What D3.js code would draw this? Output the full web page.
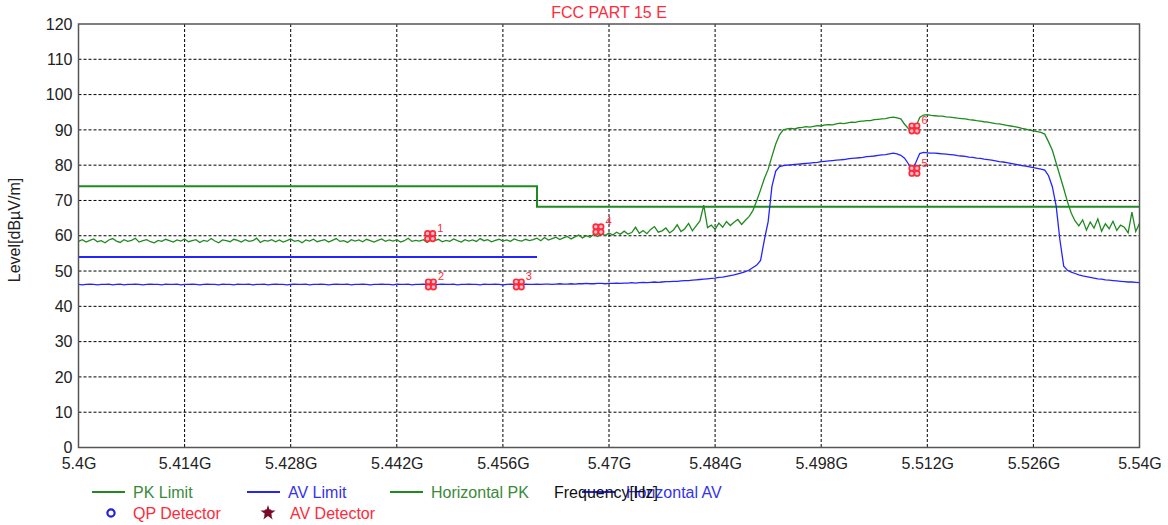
<!DOCTYPE html>
<html><head><meta charset="utf-8">
<script src="https://cdn.jsdelivr.net/npm/d3@7"></script>
<style>
html,body{margin:0;padding:0;background:#fff;}
svg{display:block;font-family:"Liberation Sans",Arial,sans-serif;}
</style></head>
<body><svg id="chart" width="1168" height="525"></svg>
<script>
// ---- data ----
const title = "FCC PART 15 E";
const yTicks = [0,10,20,30,40,50,60,70,80,90,100,110,120];
const xTicks = [5.4,5.414,5.428,5.442,5.456,5.47,5.484,5.498,5.512,5.526,5.54];
const xTickLabels = ["5.4G","5.414G","5.428G","5.442G","5.456G","5.47G","5.484G","5.498G","5.512G","5.526G","5.54G"];
// sweep: 5.400 GHz .. 5.540 GHz, 0.5 MHz per point
const sweepStart = 5.4, sweepStop = 5.54;
const horizontalPK = [
58.4,58.9,58.2,58.7,59.1,58.3,58.6,58.0,58.8,59.2,
58.5,58.1,58.9,58.4,58.7,59.3,58.2,58.6,58.9,58.3,
58.0,58.7,58.4,59.0,58.6,58.2,58.8,58.5,59.1,58.3,
58.6,58.9,58.1,58.7,58.4,59.2,58.5,58.0,58.8,58.6,
58.3,59.0,58.7,58.2,58.9,58.4,58.6,59.3,58.1,58.7,
58.5,58.9,58.3,58.8,58.2,58.6,59.1,58.4,58.7,58.0,
58.8,58.5,59.0,58.3,58.6,58.9,58.2,58.7,59.2,58.4,
58.6,58.1,58.9,58.5,58.8,58.3,59.0,58.6,58.2,58.7,
59.1,58.4,58.8,58.5,58.9,58.2,58.6,59.3,58.4,58.7,
58.5,58.9,58.1,58.8,58.6,59.0,58.3,58.7,58.4,59.1,
58.6,58.2,58.9,58.5,58.8,58.4,59.2,58.6,58.9,58.3,
58.7,59.0,58.5,58.8,58.4,59.1,58.7,58.5,59.0,58.6,
58.9,59.3,58.6,59.5,58.8,59.2,59.6,58.9,59.4,59.8,
59.1,59.7,60.2,59.4,60.0,59.6,60.4,59.8,60.6,60.1,
60.8,60.2,61.0,60.4,61.3,60.5,60.9,62.4,60.7,61.5,
60.6,61.8,62.6,61.0,61.4,62.2,60.8,61.6,63.1,61.2,
62.0,63.5,61.4,62.8,64.2,68.7,62.3,63.0,61.8,63.6,
62.4,64.0,62.9,63.8,64.6,63.2,
64.4,65.5,67.2,70.0,73.0,76.2,78.8,82.5,86.0,88.6,90.0,
90.3,90.4,90.3,90.6,90.7,90.9,90.8,91.0,91.2,91.1,
91.4,91.5,91.4,91.7,91.9,91.8,92.0,92.2,92.1,92.4,
92.5,92.6,92.6,92.9,93.0,93.1,93.2,93.5,93.6,
93.4,93.1,91.6,90.4,89.6,90.9,93.5,94.2,94.3,94.1,
94.0,93.9,93.9,93.7,93.6,93.5,93.3,93.2,93.1,92.9,
92.8,92.6,92.5,92.3,92.2,92.0,91.8,91.7,91.5,91.3,
91.1,90.9,90.7,90.4,90.2,89.9,89.7,
89.5,89.3,88.8,86.6,84.2,80.6,77.0,73.4,69.6,66.4,64.2,
62.8,64.5,61.6,63.9,62.2,64.8,61.3,63.4,62.0,64.1,
61.5,63.0,62.4,60.8,66.7,61.2,63.5];
const horizontalAV = [
46.2,46.1,46.2,46.3,46.2,46.1,46.2,46.2,46.3,46.1,
46.2,46.3,46.1,46.2,46.2,46.3,46.2,46.1,46.2,46.3,
46.2,46.2,46.1,46.3,46.2,46.2,46.3,46.1,46.2,46.2,
46.3,46.2,46.1,46.2,46.3,46.2,46.2,46.1,46.3,46.2,
46.2,46.1,46.3,46.2,46.2,46.3,46.1,46.2,46.2,46.3,
46.1,46.2,46.3,46.2,46.2,46.1,46.2,46.3,46.2,46.2,
46.3,46.1,46.2,46.2,46.3,46.2,46.1,46.2,46.3,46.2,
46.2,46.3,46.1,46.2,46.2,46.3,46.2,46.1,46.2,46.2,
46.3,46.2,46.2,46.1,46.3,46.2,46.2,46.3,46.1,46.2,
46.2,46.3,46.2,46.2,46.1,46.2,46.3,46.2,46.2,46.3,
46.1,46.2,46.2,46.3,46.2,46.2,46.1,46.3,46.2,46.2,
46.3,46.2,46.1,46.2,46.3,46.2,46.2,46.2,46.3,46.2,
46.2,46.3,46.2,46.3,46.3,46.2,46.3,46.4,46.3,46.3,
46.4,46.3,46.4,46.4,46.5,46.4,46.4,46.5,46.5,46.4,46.5,
46.5,46.6,46.5,46.6,46.6,46.7,46.6,46.7,46.8,46.7,
46.8,46.9,46.8,46.9,47.0,47.0,47.1,47.1,47.2,47.3,
47.3,47.4,47.5,47.6,47.7,47.8,47.9,48.0,48.2,
48.3,48.5,48.7,48.9,49.2,49.5,49.8,50.3,51.0,
51.7,53.0,58.8,64.0,74.0,78.3,79.6,79.9,
80.0,80.1,80.2,80.3,80.4,80.5,80.6,80.7,80.8,81.0,
81.1,81.2,81.3,81.4,81.5,81.6,81.8,81.9,82.0,82.1,
82.2,82.4,82.5,82.6,82.8,82.9,83.0,83.2,83.4,
83.2,82.8,82.0,80.4,78.6,80.8,83.3,83.6,83.5,83.4,
83.4,83.3,83.2,83.1,83.0,82.9,82.7,82.6,82.5,82.3,
82.2,82.0,81.9,81.7,81.6,81.4,81.2,81.0,80.9,80.7,
80.5,80.3,80.1,79.9,79.7,79.5,79.3,
79.1,78.9,78.6,77.0,73.9,68.5,58.8,51.4,50.2,49.7,49.3,
48.9,48.6,48.4,48.2,48.0,47.8,47.7,47.5,47.4,47.3,
47.2,47.1,47.0,46.9,46.9,46.8,46.7];
// limits: [startGHz, stopGHz, level]
const pkLimit = [[5.4,5.4605,74],[5.4605,5.54,68.2]];
const avLimit = [[5.4,5.4605,54]];
// marker points
const markerIds = [1,2,3,4,5,6];
const markerFreq = [5.4464,5.4465,5.4581,5.4686,5.5103,5.5103];
const markerLevel = [59.9,46.2,46.2,61.8,78.4,90.4];
const legendRow1 = ["PK Limit","AV Limit","Horizontal PK","Horizontal AV"];
const legendRow2 = ["QP Detector","AV Detector"];

// ---- drawing ----
const svg = d3.select("#chart");
const L = 78.5, R = 1139.5, T = 24, B = 447.5;
const x = d3.scaleLinear().domain([5.4,5.54]).range([L,R]);
const y = d3.scaleLinear().domain([0,120]).range([B,T]);
const green = "#1f8a1f", blue = "#2424ff", red = "#ff2a3c";
const step = (sweepStop - sweepStart) / (horizontalPK.length - 1);

// grid
const g = svg.append("g");
g.selectAll("line.hg").data(yTicks.filter(d=>d>0&&d<120)).enter().append("line")
  .attr("x1",L).attr("x2",R).attr("y1",d=>y(d)).attr("y2",d=>y(d))
  .attr("stroke","#000").attr("stroke-width",1).attr("stroke-dasharray","3,2");
g.selectAll("line.vg").data(xTicks.slice(1,-1)).enter().append("line")
  .attr("y1",T).attr("y2",B).attr("x1",d=>x(d)).attr("x2",d=>x(d))
  .attr("stroke","#000").attr("stroke-width",1).attr("stroke-dasharray","3,2");

// axes
const yAxis = d3.axisLeft(y).tickValues(yTicks).tickSize(0).tickPadding(6);
const ya = svg.append("g").attr("transform",`translate(${L},0)`).call(yAxis);
const xAxis = d3.axisBottom(x).tickValues(xTicks).tickSize(0).tickPadding(10)
  .tickFormat((d,i)=>xTickLabels[i]);
const xa = svg.append("g").attr("transform",`translate(0,${B})`).call(xAxis);
[ya,xa].forEach(a=>{a.select(".domain").remove();
  a.selectAll("text").attr("font-size","16px").attr("fill","#222").attr("font-family","Liberation Sans, Arial, sans-serif");});

// limits
svg.selectAll("path.pkl").data([pkLimit]).enter().append("path")
  .attr("d", d=>{let p=""; d.forEach((s,i)=>{p += (i?"L":"M")+x(s[0])+","+y(s[2])+"L"+x(s[1])+","+y(s[2]);}); return p;})
  .attr("fill","none").attr("stroke",green).attr("stroke-width",2);
svg.selectAll("path.avl").data([avLimit]).enter().append("path")
  .attr("d", d=>d.map(s=>"M"+x(s[0])+","+y(s[2])+"L"+x(s[1])+","+y(s[2])).join(""))
  .attr("fill","none").attr("stroke",blue).attr("stroke-width",2);

// traces
const line = d3.line().x((d,i)=>x(sweepStart+i*step)).y(d=>y(d));
svg.append("path").datum(horizontalAV).attr("d",line).attr("fill","none").attr("stroke",blue).attr("stroke-width",1.3);
svg.append("path").datum(horizontalPK).attr("d",line).attr("fill","none").attr("stroke",green).attr("stroke-width",1.3);

// border
svg.append("rect").attr("x",L).attr("y",T).attr("width",R-L).attr("height",B-T)
  .attr("fill","none").attr("stroke","#555").attr("stroke-width",1.5);

// markers
const mk = svg.selectAll("g.mk").data(markerIds).enter().append("g")
  .attr("transform",(d,i)=>`translate(${x(markerFreq[i])},${y(markerLevel[i])})`);
[[-2.6,-2.6],[2.6,-2.6],[-2.6,2.6],[2.6,2.6]].forEach(o=>{
  mk.append("circle").attr("cx",o[0]).attr("cy",o[1]).attr("r",2.6)
    .attr("fill","#ffc0c8").attr("stroke",red).attr("stroke-width",1.7);
});
mk.append("text").attr("x",7).attr("y",-4).text(d=>d)
  .attr("font-size","11px").attr("fill",red);

// title
svg.append("text").attr("x",609).attr("y",18).attr("text-anchor","middle")
  .attr("font-size","16px").attr("fill",red).text(title);

// y title
svg.append("text").attr("transform","translate(20,230) rotate(-90)").attr("text-anchor","middle")
  .attr("font-size","16px").attr("fill","#222").text("Level[dBµV/m]");

// legend row 1
const leg1X = [92,247,390,582], leg1C = [green,blue,green,blue];
const leg1TextC = ["#3a8a3a","#3333ee","#3a8a3a","#3333ee"];
const lg = svg.selectAll("g.lg").data(legendRow1).enter().append("g");
lg.append("line").attr("x1",(d,i)=>leg1X[i]).attr("x2",(d,i)=>leg1X[i]+33)
  .attr("y1",492).attr("y2",492).attr("stroke",(d,i)=>leg1C[i]).attr("stroke-width",2);
lg.append("text").attr("x",(d,i)=>leg1X[i]+41 + (i===3?3:0)).attr("y",498).text(d=>d)
  .attr("font-size","16px").attr("fill",(d,i)=>leg1TextC[i]);

// x axis title (overlaps legend like the original)
svg.append("text").attr("x",554).attr("y",498).attr("font-size","16px").attr("fill","#111").text("Frequency[Hz]");

// legend row 2
svg.append("circle").attr("cx",111).attr("cy",513).attr("r",3.6).attr("fill","none").attr("stroke","#2020dd").attr("stroke-width",2.2);
svg.append("text").attr("x",133).attr("y",519).attr("font-size","16px").attr("fill",red).text(legendRow2[0]);
svg.append("path").attr("d",d3.symbol().type(d3.symbolStar).size(70)()).attr("transform","translate(268,513)").attr("fill","#7a0a28");
svg.append("path").attr("d",d3.symbol().type(d3.symbolCross).size(40)()).attr("transform","translate(268,513) rotate(45)").attr("fill","#7a0a28");
svg.append("text").attr("x",290).attr("y",519).attr("font-size","16px").attr("fill",red).text(legendRow2[1]);
</script></body></html>
